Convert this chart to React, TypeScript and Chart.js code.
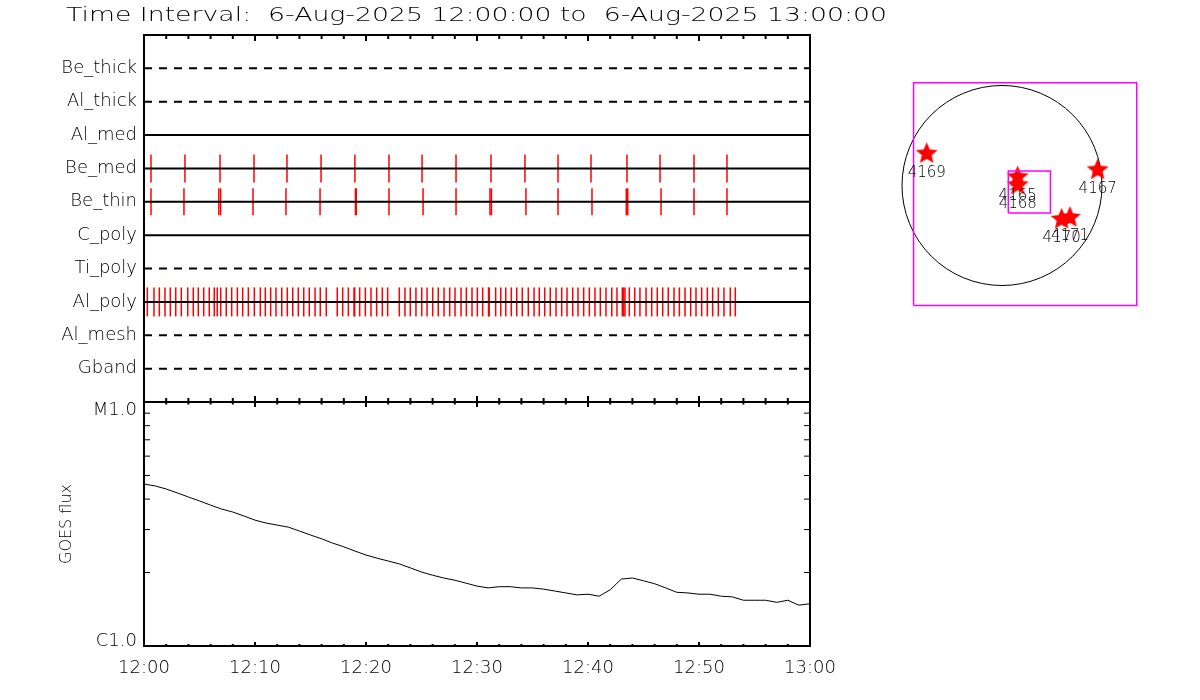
import React, { useEffect, useRef } from 'react';
import { Chart, registerables } from 'chart.js';

Chart.register(...registerables);

const FONT = 'DejaVu Sans';
const TITLE = 'Time Interval:  6-Aug-2025 12:00:00 to  6-Aug-2025 13:00:00';
const START_HOUR = 12;
const X_MIN = 0;
const X_MAX = 60;
const X_TICKS = [0, 10, 20, 30, 40, 50, 60];
const X_MINOR_STEP = 2;

// filter rows, top to bottom
const ROW_NAMES = ['Be_thick', 'Al_thick', 'Al_med', 'Be_med', 'Be_thin', 'C_poly', 'Ti_poly', 'Al_poly', 'Al_mesh', 'Gband'];
const ROW_DASHED = [true, true, false, false, false, false, true, false, true, true];

// exposure times (minutes after 12:00)
const BE_MED_EVENTS = [0.63, 3.69, 6.85, 9.91, 12.88, 15.95, 19.0, 22.07, 25.05, 28.11, 31.26, 34.32, 37.3, 40.27, 43.51, 46.49, 49.55, 52.52];
const BE_THIN_EVENTS = [0.63, 3.6, 6.74, 6.9, 9.82, 12.79, 15.86, 19.05, 19.12, 22.07, 25.14, 28.11, 31.17, 31.3, 34.41, 37.3, 40.36, 43.45, 43.58, 46.58, 49.55, 52.52];
const AL_POLY_EVENTS = [
  0.3, 0.9, 1.38, 1.89, 2.37, 2.86, 3.36, 3.94, 4.44, 4.89, 5.38, 5.88, 6.33, 6.6, 6.91, 7.41, 7.9, 8.41, 8.89, 9.4,
  9.94, 10.48, 10.93, 11.41, 11.89, 12.41, 12.91, 13.4, 13.9, 14.39, 14.89, 15.41, 15.88, 16.42, 17.41, 17.9, 18.41,
  18.92, 18.98, 19.43, 19.94, 20.45, 20.96, 21.47, 21.95, 23.0, 23.51, 23.99, 24.5, 25.02, 25.5, 26.01, 26.51, 27.03,
  27.54, 28.02, 28.56, 29.04, 29.55, 30.03, 30.51, 31.04, 31.1, 31.68, 32.14, 32.59, 33.09, 33.58, 34.08, 34.62,
  35.14, 35.61, 36.1, 36.6, 37.12, 37.63, 38.11, 38.62, 39.1, 39.61, 40.12, 40.63, 41.11, 41.62, 42.14, 42.61,
  43.09, 43.21, 43.33, 43.72, 44.21, 44.68, 45.23, 45.74, 46.24, 46.73, 47.23, 47.75, 48.23, 48.74, 49.25, 49.73,
  50.24, 50.75, 51.23, 51.74, 52.25, 52.82, 53.27,
];
const EVENT_ROWS = ['Be_med', 'Be_thin', 'Al_poly'];
const EVENT_TIMES = [BE_MED_EVENTS, BE_THIN_EVENTS, AL_POLY_EVENTS];

// GOES flux, one sample per minute, in units of 1e-6 W/m^2
const GOES_MINUTES = [
  0, 1, 2, 3, 4, 5, 6, 7, 8, 9, 10, 11, 12, 13, 14, 15, 16, 17, 18, 19, 20, 21, 22, 23, 24, 25, 26, 27, 28, 29, 30,
  31, 32, 33, 34, 35, 36, 37, 38, 39, 40, 41, 42, 43, 44, 45, 46, 47, 48, 49, 50, 51, 52, 53, 54, 55, 56, 57, 58, 59, 60,
];
const GOES_FLUX = [
  4.61, 4.53, 4.4, 4.24, 4.08, 3.93, 3.78, 3.64, 3.54, 3.41, 3.28, 3.19, 3.13, 3.07, 2.96, 2.85, 2.75, 2.64, 2.55, 2.45,
  2.36, 2.29, 2.23, 2.17, 2.09, 2.01, 1.95, 1.9, 1.86, 1.81, 1.76, 1.73, 1.75, 1.75, 1.73, 1.73, 1.71, 1.68, 1.65, 1.62,
  1.63, 1.6, 1.7, 1.88, 1.9, 1.85, 1.8, 1.73, 1.66, 1.65, 1.63, 1.63, 1.6, 1.59, 1.54, 1.54, 1.54, 1.51, 1.54, 1.47, 1.49,
];
const FLUX_MIN = 1e-6;
const FLUX_MAX = 1e-5;
const FLUX_TICK_VALUES = [1e-6, 1e-5];
const FLUX_TICK_LABELS = ['C1.0', 'M1.0'];

// solar disk (arcsec)
const SOLAR_RADIUS = 950;
const AR_NUMBERS = ['4169', '4167', '4165', '4168', '4170', '4171'];
const AR_X = [-715, 909, 149, 150, 567, 646];
const AR_Y = [312, 157, 90, 14, -312, -295];
const FOV_OUTER = [-840, 1280, -1140, 975]; // x0, x1, y0, y1
const FOV_INNER = [60, 460, -262, 138];

const fmtTime = (v: number) => `${START_HOUR + Math.floor(v / 60)}:${String(v % 60).padStart(2, '0')}`;
const rowValue = (name: string) => ROW_NAMES.length - ROW_NAMES.indexOf(name);
const boxPoints = (b: number[]) => [
  { x: b[0], y: b[2] }, { x: b[1], y: b[2] }, { x: b[1], y: b[3] }, { x: b[0], y: b[3] }, { x: b[0], y: b[2] },
];

function makeStar(size: number, color: string) {
  const c = document.createElement('canvas');
  c.width = size;
  c.height = size;
  const g = c.getContext('2d')!;
  const R = size / 2;
  const r = R * 0.45;
  g.beginPath();
  for (let k = 0; k < 10; k++) {
    const a = -Math.PI / 2 + (k * Math.PI) / 5;
    const rr = k % 2 ? r : R;
    g.lineTo(R + rr * Math.cos(a), R + 1 + rr * Math.sin(a));
  }
  g.closePath();
  g.fillStyle = color;
  g.fill();
  return c;
}

const mainPlugin = {
  id: 'idlFrame',
  afterDraw(chart: any) {
    const { ctx } = chart;
    const xs = chart.scales.x;
    const yr = chart.scales.yRows;
    const yf = chart.scales.yFlux;
    const seg = (x1: number, y1: number, x2: number, y2: number) => {
      ctx.beginPath();
      ctx.moveTo(x1, y1);
      ctx.lineTo(x2, y2);
      ctx.stroke();
    };
    ctx.save();
    // title
    ctx.font = `200 20px "${FONT}"`;
    ctx.fillStyle = '#000';
    ctx.textAlign = 'left';
    ctx.textBaseline = 'alphabetic';
    const w = ctx.measureText(TITLE).width;
    ctx.save();
    ctx.translate(66, 21);
    ctx.scale(821 / w, 1);
    ctx.fillText(TITLE, 0, 0);
    ctx.restore();
    // frames
    ctx.strokeStyle = '#000';
    ctx.lineWidth = 2;
    ctx.strokeRect(xs.left, yr.top, xs.right - xs.left, yr.bottom - yr.top);
    ctx.strokeRect(xs.left, yf.top, xs.right - xs.left, yf.bottom - yf.top);
    // time ticks (inward)
    for (let m = X_MIN; m <= X_MAX; m += X_MINOR_STEP) {
      const px = xs.getPixelForValue(m);
      const major = X_TICKS.includes(m);
      const lt = major ? 6 : 4;
      seg(px, yr.top, px, yr.top + lt);
      seg(px, yr.bottom, px, yr.bottom - lt);
      seg(px, yf.top, px, yf.top + (major ? 5 : 2.5));
      seg(px, yf.bottom, px, yf.bottom - (major ? 4 : 2));
    }
    // log minor ticks
    ctx.lineWidth = 1;
    for (let k = 2; k <= 9; k++) {
      const py = yf.getPixelForValue(k * FLUX_MIN);
      seg(xs.left, py, xs.left + 6, py);
      seg(xs.right, py, xs.right - 6, py);
    }
    // flux labels
    ctx.font = `200 18px "${FONT}"`;
    ctx.textAlign = 'right';
    ctx.textBaseline = 'alphabetic';
    FLUX_TICK_VALUES.forEach((v, i) => {
      const py = yf.getPixelForValue(v);
      const off = v >= FLUX_MAX ? 13 : 0;
      ctx.fillText(FLUX_TICK_LABELS[i], xs.left - 7, py + off);
    });
    ctx.restore();
  },
};

const diskPlugin = {
  id: 'diskDecor',
  beforeDatasetsDraw(chart: any) {
    const { ctx } = chart;
    const xs = chart.scales.x;
    const ys = chart.scales.y;
    const cx = xs.getPixelForValue(0);
    const cy = ys.getPixelForValue(0);
    const r = xs.getPixelForValue(SOLAR_RADIUS) - cx;
    ctx.save();
    ctx.strokeStyle = '#000';
    ctx.lineWidth = 1;
    ctx.beginPath();
    ctx.arc(cx, cy, r, 0, Math.PI * 2);
    ctx.stroke();
    ctx.restore();
  },
  afterDatasetsDraw(chart: any) {
    const { ctx } = chart;
    const xs = chart.scales.x;
    const ys = chart.scales.y;
    ctx.save();
    ctx.font = `200 15px "${FONT}"`;
    ctx.fillStyle = '#000';
    ctx.textAlign = 'center';
    ctx.textBaseline = 'middle';
    AR_NUMBERS.forEach((n, i) => {
      ctx.fillText(n, xs.getPixelForValue(AR_X[i]), ys.getPixelForValue(AR_Y[i]) + 20);
    });
    ctx.restore();
  },
};

function mainConfig(): any {
  const rowDatasets = ROW_NAMES.map((name, i) => ({
    type: 'line',
    label: name,
    data: [
      { x: X_MIN, y: rowValue(name) },
      { x: X_MAX, y: rowValue(name) },
    ],
    xAxisID: 'x',
    yAxisID: 'yRows',
    borderColor: '#000',
    borderWidth: 2,
    borderDash: ROW_DASHED[i] ? [8, 7] : [],
    borderCapStyle: 'butt',
    pointRadius: 0,
    fill: false,
  }));
  const halfLen = [14, 13.5, 14.5];
  const eventDatasets = EVENT_ROWS.map((name, i) => ({
    type: 'line',
    label: name + ' exposures',
    data: EVENT_TIMES[i].map((t) => ({ x: t, y: rowValue(name) })),
    xAxisID: 'x',
    yAxisID: 'yRows',
    showLine: false,
    pointStyle: 'line',
    pointRotation: 90,
    pointRadius: halfLen[i],
    pointHoverRadius: halfLen[i],
    pointBorderColor: '#ff0000',
    pointBackgroundColor: '#ff0000',
    pointBorderWidth: 1.5,
  }));
  const fluxDataset = {
    type: 'line',
    label: 'GOES flux',
    data: GOES_MINUTES.map((m, i) => ({ x: m, y: GOES_FLUX[i] * 1e-6 })),
    xAxisID: 'x',
    yAxisID: 'yFlux',
    borderColor: '#000',
    borderWidth: 1,
    pointRadius: 0,
    tension: 0,
    fill: false,
  };
  const tickFont = { family: FONT, size: 18, weight: 200 };
  return {
    type: 'line',
    data: { datasets: [...rowDatasets, ...eventDatasets, fluxDataset] },
    plugins: [mainPlugin],
    options: {
      animation: false,
      responsive: false,
      events: [],
      layout: { autoPadding: false, padding: { left: 0, top: 35, right: 90, bottom: 0 } },
      plugins: { legend: { display: false }, tooltip: { enabled: false }, title: { display: false } },
      scales: {
        x: {
          type: 'linear',
          position: 'bottom',
          min: X_MIN,
          max: X_MAX,
          afterBuildTicks: (s: any) => {
            s.ticks = X_TICKS.map((v) => ({ value: v }));
          },
          afterFit: (s: any) => {
            s.height = 54;
          },
          grid: { display: false, drawTicks: false },
          border: { display: false },
          ticks: {
            callback: (v: number) => fmtTime(v),
            font: tickFont,
            color: '#000',
            padding: 12,
            maxRotation: 0,
            autoSkip: false,
          },
        },
        yFlux: {
          type: 'logarithmic',
          position: 'left',
          stack: 'panels',
          stackWeight: 244,
          weight: 0,
          min: FLUX_MIN,
          max: FLUX_MAX,
          grid: { display: false, drawTicks: false },
          border: { display: false },
          ticks: { display: false },
          title: {
            display: true,
            text: 'GOES flux',
            color: '#000',
            font: { family: FONT, size: 16, weight: 200 },
            padding: { top: 57, bottom: 0 },
          },
          afterFit: (s: any) => {
            s.width = 144;
          },
        },
        yRows: {
          type: 'linear',
          position: 'left',
          stack: 'panels',
          stackWeight: 367,
          weight: 1,
          min: 0,
          max: ROW_NAMES.length + 1,
          afterBuildTicks: (s: any) => {
            s.ticks = ROW_NAMES.map((n) => ({ value: rowValue(n) }));
          },
          grid: { display: false, drawTicks: false },
          border: { display: false },
          ticks: {
            callback: (v: number) => ROW_NAMES[ROW_NAMES.length - v],
            font: tickFont,
            color: '#000',
            padding: 7,
            autoSkip: false,
          },
          afterFit: (s: any) => {
            s.width = 144;
          },
        },
      },
    },
  };
}

function diskConfig(): any {
  const star = makeStar(23, '#ff0000');
  return {
    type: 'scatter',
    data: {
      datasets: [
        {
          type: 'line',
          label: 'FOV outer',
          data: boxPoints(FOV_OUTER),
          borderColor: '#ff00ff',
          borderWidth: 1.5,
          pointRadius: 0,
          fill: false,
          clip: false,
        },
        {
          type: 'line',
          label: 'FOV inner',
          data: boxPoints(FOV_INNER),
          borderColor: '#ff00ff',
          borderWidth: 1.5,
          pointRadius: 0,
          fill: false,
          clip: false,
        },
        {
          type: 'scatter',
          label: 'Active regions',
          data: AR_X.map((x, i) => ({ x, y: AR_Y[i] })),
          pointStyle: star,
          pointRadius: 11,
          clip: false,
        },
      ],
    },
    plugins: [diskPlugin],
    options: {
      animation: false,
      responsive: false,
      events: [],
      layout: { autoPadding: false, padding: 0 },
      plugins: { legend: { display: false }, tooltip: { enabled: false } },
      scales: {
        x: { type: 'linear', display: false, min: -1159, max: 1501 },
        y: { type: 'linear', display: false, min: -1372.75, max: 1192.25 },
      },
    },
  };
}

export default function App() {
  const mainRef = useRef<HTMLCanvasElement>(null);
  const diskRef = useRef<HTMLCanvasElement>(null);
  useEffect(() => {
    const main = new Chart(mainRef.current!, mainConfig());
    const disk = new Chart(diskRef.current!, diskConfig());
    return () => {
      main.destroy();
      disk.destroy();
    };
  }, []);
  return (
    <div style={{ position: 'fixed', left: 0, top: 0, width: 1200, height: 700, background: '#fff' }}>
      <canvas
        ref={mainRef}
        width={900}
        height={700}
        style={{ position: 'absolute', left: 0, top: 0, width: 900, height: 700 }}
      />
      <canvas
        ref={diskRef}
        width={280}
        height={270}
        style={{ position: 'absolute', left: 880, top: 60, width: 280, height: 270 }}
      />
    </div>
  );
}
